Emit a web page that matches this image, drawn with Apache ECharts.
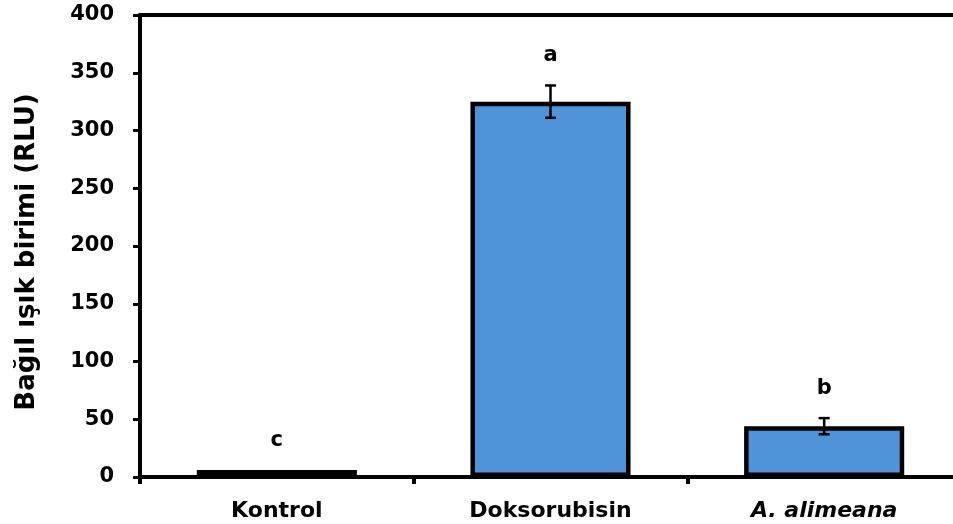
<!DOCTYPE html>
<html><head><meta charset="utf-8">
<script src="https://cdn.jsdelivr.net/npm/echarts@6/dist/echarts.min.js"></script>
<style>html,body{margin:0;padding:0;background:#fff}#c{width:953px;height:524px}</style>
</head><body><div id="c"></div>
<script>
const categories = ['Kontrol', 'Doksorubisin', 'A. alimeana'];
const means = [6, 325, 44];
const errors = [0, 14, 7];
const letters = ['c', 'a', 'b'];
const yTicks = [0, 50, 100, 150, 200, 250, 300, 350, 400];

const FONT = '"DejaVu Sans", "Liberation Sans", Arial, sans-serif';
const chart = echarts.init(document.getElementById('c'));
chart.setOption({
  backgroundColor: '#fff',
  animation: false,
  grid: { left: 140, top: 15, width: 821, height: 462, containLabel: false, outerBoundsMode: 'none' },
  xAxis: [{
    type: 'category', data: categories, boundaryGap: true,
    axisLine: { lineStyle: { color: '#000', width: 4 } },
    axisTick: { show: true, length: 7, lineStyle: { color: '#000', width: 4 } },
    axisLabel: {
      margin: 23, color: '#000', fontFamily: FONT, fontSize: 22, fontWeight: 'bold',
      formatter: v => v === 'A. alimeana' ? '{i|' + v + '}' : v,
      rich: { i: { fontStyle: 'italic', fontWeight: 'bold', fontFamily: FONT, fontSize: 22, color: '#000' } }
    }
  }, {
    type: 'category', data: categories, position: 'top',
    axisLine: { show: true, lineStyle: { color: '#000', width: 4 } },
    axisTick: { show: false }, axisLabel: { show: false }
  }],
  yAxis: {
    type: 'value', min: yTicks[0], max: yTicks[yTicks.length - 1], interval: 50,
    name: 'Bağıl ışık birimi (RLU)', nameLocation: 'middle', nameGap: 100,
    nameTextStyle: { color: '#000', fontFamily: FONT, fontSize: 26, fontWeight: 'bold', padding: [0, 12, 0, 0] },
    axisLine: { show: true, lineStyle: { color: '#000', width: 4 } },
    axisTick: { show: true, length: 7, lineStyle: { color: '#000', width: 3 } },
    axisLabel: { margin: 26, color: '#000', fontFamily: FONT, fontSize: 21, fontWeight: 'bold' },
    splitLine: { show: false }
  },
  series: [{
    type: 'bar', data: means, barWidth: '58.5%',
    itemStyle: { color: '#4F94D8', borderColor: '#000', borderWidth: 4.5 }
  }, {
    type: 'custom',
    data: means.map((m, i) => [i, m, errors[i], letters[i]]),
    renderItem: function (params, api) {
      const i = api.value(0), m = api.value(1), e = api.value(2);
      const top = api.coord([i, m + e]);
      const bot = api.coord([i, m - e]);
      const barTop = api.coord([i, m]);
      const half = 5.5;
      const children = [];
      if (e > 0) {
        const st = { stroke: '#000', lineWidth: 2.5 };
        children.push({ type: 'line', shape: { x1: top[0], y1: top[1], x2: bot[0], y2: bot[1] }, style: st });
        children.push({ type: 'line', shape: { x1: top[0] - half, y1: top[1], x2: top[0] + half, y2: top[1] }, style: st });
        children.push({ type: 'line', shape: { x1: bot[0] - half, y1: bot[1], x2: bot[0] + half, y2: bot[1] }, style: st });
      }
      const ly = Math.min(top[1], barTop[1]) - 30;
      children.push({ type: 'text', style: { text: letters[i], x: top[0], y: ly, align: 'center', verticalAlign: 'middle',
        fill: '#000', font: 'bold 21px ' + FONT } });
      return { type: 'group', children: children };
    },
    z: 10
  }]
});
</script></body></html>
